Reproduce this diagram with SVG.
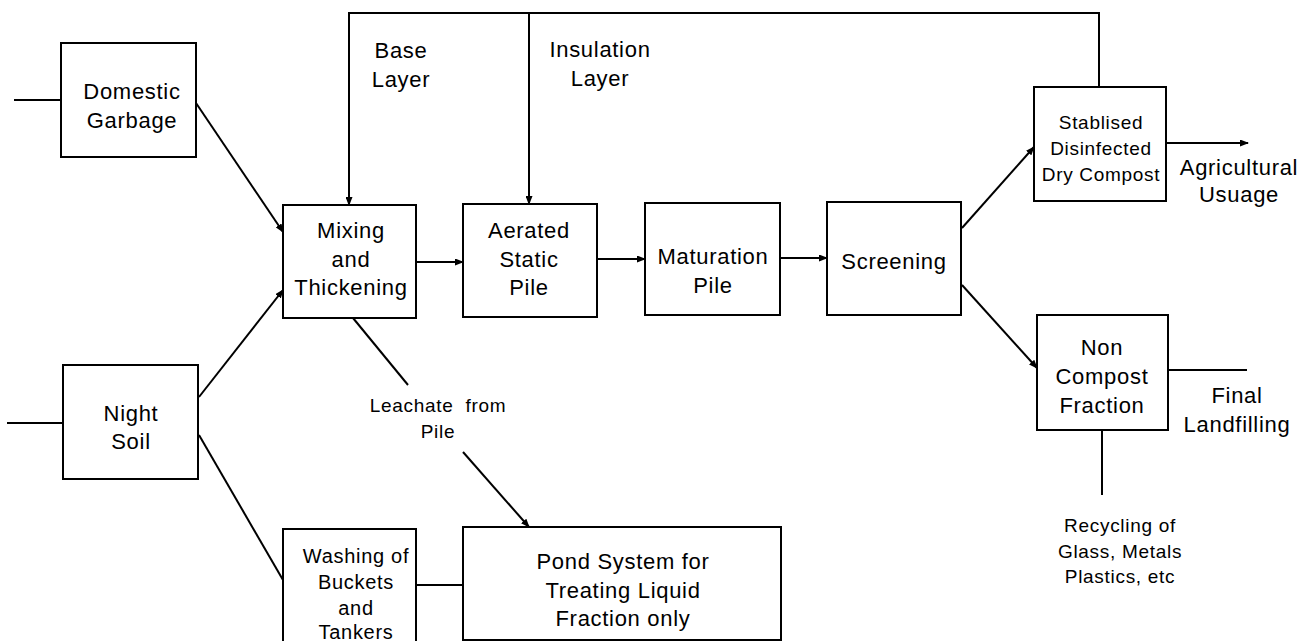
<svg xmlns="http://www.w3.org/2000/svg" width="1309" height="641" viewBox="0 0 1309 641">
<style>
.box{fill:#fff;stroke:#000;stroke-width:2}
.ln{fill:none;stroke:#000;stroke-width:2}
.t{font-family:"Liberation Sans",Arial,sans-serif;font-size:22px;letter-spacing:0.7px;fill:#000;text-anchor:middle}
.s{font-size:19px}
.w{font-size:20px}
</style>
<defs>
<marker id="ah" markerWidth="9" markerHeight="7" refX="8" refY="3.5" orient="auto" markerUnits="userSpaceOnUse">
<path d="M0,0 L9,3.5 L0,7 z" fill="#000"/>
</marker>
</defs>
<g id="connectors">
<line class="ln" x1="14" y1="100" x2="61" y2="100"/>
<line class="ln" x1="7" y1="423" x2="63" y2="423"/>
<line class="ln" x1="196" y1="103" x2="283" y2="232" marker-end="url(#ah)"/>
<line class="ln" x1="199" y1="397" x2="283" y2="290" marker-end="url(#ah)"/>
<line class="ln" x1="199" y1="435" x2="283" y2="580"/>
<polyline class="ln" points="1099,87 1099,13 349,13 349,205" marker-end="url(#ah)"/>
<line class="ln" x1="529" y1="13" x2="529" y2="204" marker-end="url(#ah)"/>
<line class="ln" x1="416" y1="262" x2="463" y2="262" marker-end="url(#ah)"/>
<line class="ln" x1="597" y1="259" x2="645" y2="259" marker-end="url(#ah)"/>
<line class="ln" x1="780" y1="258" x2="827" y2="258" marker-end="url(#ah)"/>
<line class="ln" x1="962" y1="228" x2="1034" y2="147" marker-end="url(#ah)"/>
<line class="ln" x1="962" y1="285" x2="1037" y2="368" marker-end="url(#ah)"/>
<line class="ln" x1="1166" y1="143" x2="1248" y2="143" marker-end="url(#ah)"/>
<line class="ln" x1="1168" y1="370" x2="1247" y2="370"/>
<line class="ln" x1="1102" y1="430" x2="1102" y2="495"/>
<line class="ln" x1="353" y1="318" x2="408" y2="385"/>
<line class="ln" x1="463" y1="452" x2="529" y2="527" marker-end="url(#ah)"/>
<line class="ln" x1="416" y1="585" x2="463" y2="585"/>
</g>
<g id="domestic-garbage">
<rect class="box" x="61" y="43" width="135" height="114"/>
<text class="t" x="132" y="99">Domestic</text>
<text class="t" x="132" y="128">Garbage</text>
</g>
<g id="night-soil">
<rect class="box" x="63" y="365" width="135" height="114"/>
<text class="t" x="131" y="421">Night</text>
<text class="t" x="131" y="449">Soil</text>
</g>
<g id="mixing">
<rect class="box" x="283" y="205" width="133" height="113"/>
<text class="t" x="351" y="238">Mixing</text>
<text class="t" x="351" y="267">and</text>
<text class="t" x="351" y="295">Thickening</text>
</g>
<g id="aerated">
<rect class="box" x="463" y="204" width="134" height="113"/>
<text class="t" x="529" y="238">Aerated</text>
<text class="t" x="529" y="267">Static</text>
<text class="t" x="529" y="295">Pile</text>
</g>
<g id="maturation">
<rect class="box" x="645" y="203" width="135" height="112"/>
<text class="t" x="713" y="264">Maturation</text>
<text class="t" x="713" y="293">Pile</text>
</g>
<g id="screening">
<rect class="box" x="827" y="202" width="134" height="113"/>
<text class="t" x="894" y="269">Screening</text>
</g>
<g id="stablised">
<rect class="box" x="1034" y="87" width="132" height="114"/>
<text class="t s" x="1101" y="129">Stablised</text>
<text class="t s" x="1101" y="155">Disinfected</text>
<text class="t s" x="1101" y="181">Dry Compost</text>
</g>
<g id="non-compost">
<rect class="box" x="1037" y="315" width="131" height="115"/>
<text class="t" x="1102" y="355">Non</text>
<text class="t" x="1102" y="384">Compost</text>
<text class="t" x="1102" y="413">Fraction</text>
</g>
<g id="washing">
<rect class="box" x="283" y="529" width="133" height="120"/>
<text class="t w" x="356" y="563">Washing of</text>
<text class="t w" x="356" y="589">Buckets</text>
<text class="t w" x="356" y="615">and</text>
<text class="t w" x="356" y="639">Tankers</text>
</g>
<g id="pond">
<rect class="box" x="463" y="527" width="318" height="113"/>
<text class="t" x="623" y="569">Pond System for</text>
<text class="t" x="623" y="598">Treating Liquid</text>
<text class="t" x="623" y="626">Fraction only</text>
</g>
<g id="labels">
<text class="t" x="401" y="58">Base</text>
<text class="t" x="401" y="87">Layer</text>
<text class="t" x="600" y="57">Insulation</text>
<text class="t" x="600" y="86">Layer</text>
<text class="t" x="1239" y="175">Agricultural</text>
<text class="t" x="1239" y="202">Usuage</text>
<text class="t" x="1237" y="403">Final</text>
<text class="t" x="1237" y="432">Landfilling</text>
<text class="t s" x="1120" y="532">Recycling of</text>
<text class="t s" x="1120" y="558">Glass, Metals</text>
<text class="t s" x="1120" y="583">Plastics, etc</text>
<text class="t s" x="438" y="412" xml:space="preserve">Leachate  from</text>
<text class="t s" x="438" y="438">Pile</text>
</g>
</svg>
